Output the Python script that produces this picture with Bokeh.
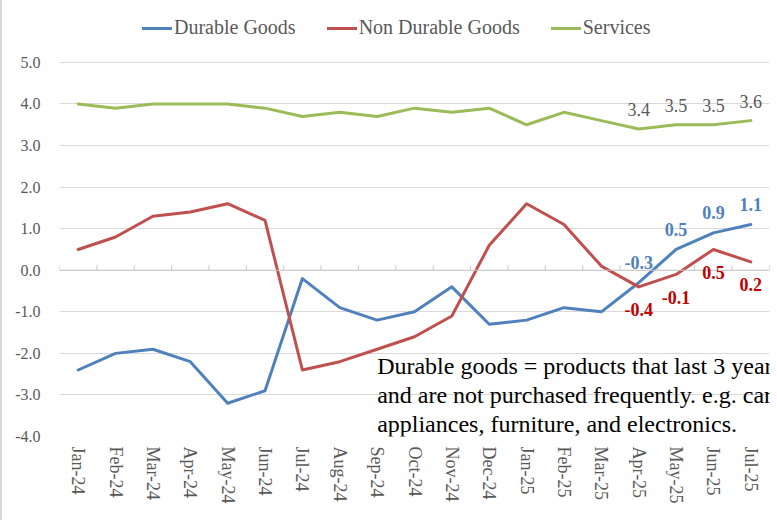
from bokeh.plotting import figure
from bokeh.models import (FactorRange, Range1d, FixedTicker, NumeralTickFormatter,
                          ColumnDataSource, LabelSet, Label, Legend, LegendItem, Span)
from bokeh.embed import file_html
from bokeh.resources import INLINE

# Year-over-year change (%) by consumption category
months = ["Jan-24", "Feb-24", "Mar-24", "Apr-24", "May-24", "Jun-24", "Jul-24",
          "Aug-24", "Sep-24", "Oct-24", "Nov-24", "Dec-24", "Jan-25", "Feb-25",
          "Mar-25", "Apr-25", "May-25", "Jun-25", "Jul-25"]
durable = [-2.4, -2.0, -1.9, -2.2, -3.2, -2.9, -0.2, -0.9, -1.2, -1.0, -0.4, -1.3,
           -1.2, -0.9, -1.0, -0.3, 0.5, 0.9, 1.1]
non_durable = [0.5, 0.8, 1.3, 1.4, 1.6, 1.2, -2.4, -2.2, -1.9, -1.6, -1.1, 0.6,
               1.6, 1.1, 0.1, -0.4, -0.1, 0.5, 0.2]
services = [4.0, 3.9, 4.0, 4.0, 4.0, 3.9, 3.7, 3.8, 3.7, 3.9, 3.8, 3.9,
            3.5, 3.8, 3.6, 3.4, 3.5, 3.5, 3.6]
y_ticks = [-4, -3, -2, -1, 0, 1, 2, 3, 4, 5]
series_names = ["Durable Goods", "Non Durable Goods", "Services"]
note_text = ("Durable goods = products that last 3 years or more\n"
             "and are not purchased frequently. e.g. cars,\n"
             "appliances, furniture, and electronics.")

FONT = "Liberation Serif, serif"
TEXT_GRAY = "#595959"
GRID_GRAY = "#D9D9D9"
BLUE, RED, GREEN = "#4F81BD", "#C0504D", "#9BBB59"

p = figure(width=775, height=520,
           x_range=FactorRange(factors=months),
           y_range=Range1d(-4, 6.49),
           output_backend="svg", toolbar_location=None,
           min_border_left=57, min_border_right=8,
           min_border_top=0, min_border_bottom=84,
           outline_line_color=None,
           styles={"border-left": "2px solid #D9D9D9"})

# axes
p.yaxis.ticker = FixedTicker(ticks=y_ticks)
p.yaxis.formatter = NumeralTickFormatter(format="0.0")
p.yaxis.axis_line_color = None
p.yaxis.major_tick_line_color = None
p.yaxis.minor_tick_line_color = None
p.yaxis.major_label_text_font = FONT
p.yaxis.major_label_text_font_size = "16px"
p.yaxis.major_label_text_color = TEXT_GRAY
p.yaxis.major_label_standoff = 13

p.xaxis.axis_line_color = None
p.xaxis.major_tick_line_color = None
p.xaxis.major_label_orientation = "vertical"
p.xaxis.major_label_text_font = FONT
p.xaxis.major_label_text_font_size = "18px"
p.xaxis.major_label_text_color = TEXT_GRAY
p.xaxis.major_label_standoff = 4

p.xgrid.visible = False
p.ygrid.ticker = FixedTicker(ticks=y_ticks)
p.ygrid.grid_line_color = GRID_GRAY

# zero line with category boundary ticks
p.add_layout(Span(location=0, dimension="width", line_color="#C8C8C8", line_width=1))
bounds = [(m, -0.5) for m in months] + [(months[-1], 0.5)]
p.segment(x0=bounds, y0=[0] * len(bounds), x1=bounds, y1=[0.12] * len(bounds),
          line_color="#C8C8C8", line_width=1)

# series lines
renderers = []
for vals, color in [(durable, BLUE), (non_durable, RED), (services, GREEN)]:
    r = p.line(months, vals, line_color=color, line_width=3,
               line_join="round", line_cap="round")
    renderers.append(r)

# value labels on the last four months
def add_labels(vals, color, y_off, bold):
    n = 4
    src = ColumnDataSource(dict(x=months[-n:], y=vals[-n:],
                                t=[f"{v:.1f}" for v in vals[-n:]]))
    p.add_layout(LabelSet(x="x", y="y", text="t", source=src,
                          y_offset=y_off, text_align="center", text_baseline="middle",
                          text_font=FONT, text_font_size="18px",
                          text_font_style="bold" if bold else "normal",
                          text_color=color))

add_labels(durable, BLUE, 20, True)
add_labels(non_durable, "#C00000", -23, True)
add_labels(services, TEXT_GRAY, 19, False)

# legend across the top
legend = Legend(items=[LegendItem(label=name, renderers=[r])
                       for name, r in zip(series_names, renderers)],
                orientation="horizontal", location=(83, 397),
                label_text_font=FONT, label_text_font_size="20px",
                label_text_color=TEXT_GRAY, glyph_width=30, glyph_height=20,
                spacing=31, label_standoff=2, padding=0, margin=0,
                border_line_color=None, background_fill_alpha=0)
p.add_layout(legend)

# explanatory note, left edge on the Sep-24 category centre
note_x = months.index("Sep-24") + 0.5
p.add_layout(Label(x=note_x, y=-1.98, text=note_text,
                   text_align="left", text_baseline="top",
                   text_font=FONT, text_font_size="24px",
                   text_color="#000000", text_line_height=1.12))

open("out.html", "w").write(file_html(p, INLINE))
